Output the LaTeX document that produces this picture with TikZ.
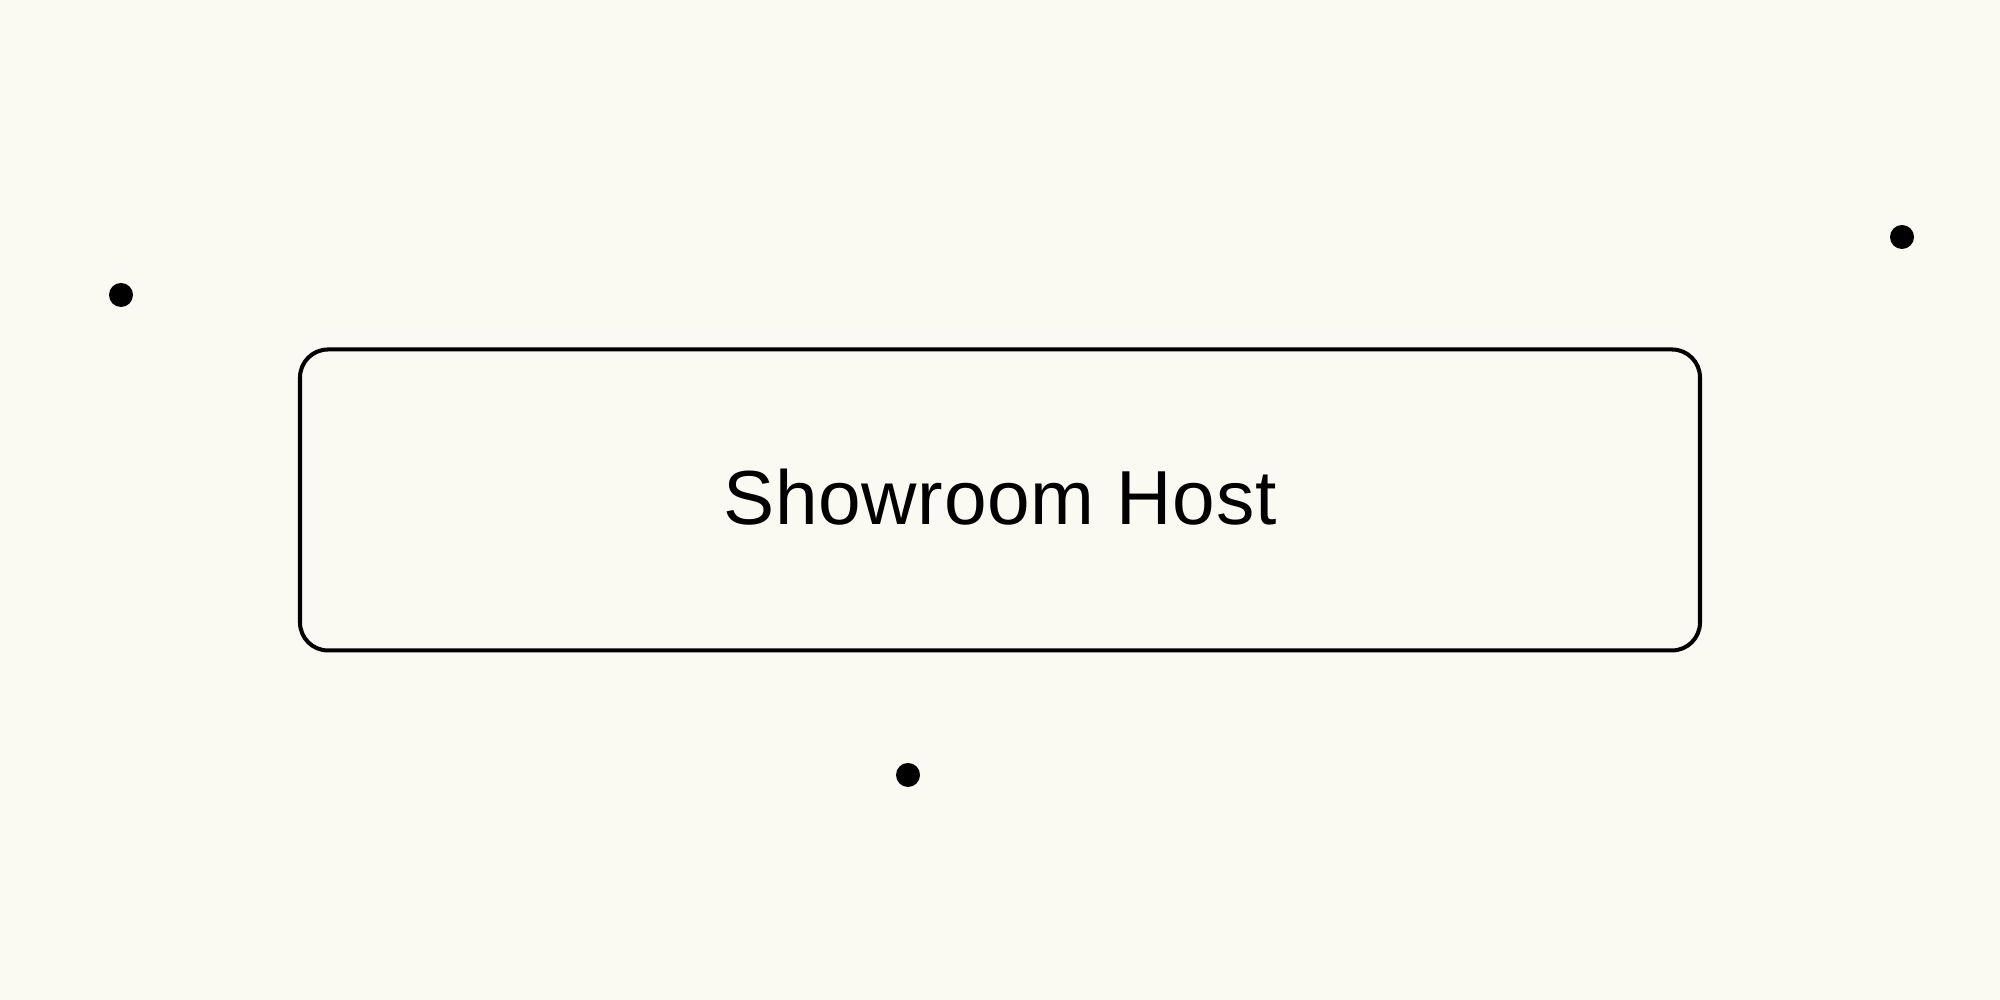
\documentclass[tikz,border=0pt]{standalone}
\usepackage{fontspec}
\setmainfont{Liberation Sans}[LetterSpace=1]
\usetikzlibrary{positioning}
\definecolor{paper}{RGB}{250,250,243}
\definecolor{ink}{RGB}{0,0,0}

\begin{document}
\begin{tikzpicture}[
            hostbox/.style={rectangle, draw=ink, line width=1.15pt, rounded corners=0.28cm, minimum width=14cm, minimum height=3.01cm, inner sep=0pt},
            label/.style={font=\fontsize{21.8}{26}\selectfont, text=ink, inner sep=0pt, anchor=base},
            spot/.style={circle, fill=ink, minimum size=0.24cm, inner sep=0pt}
        ]
        \fill[paper] (0,0) rectangle (20,10);
        \useasboundingbox (0,0) rectangle (20,10);

        \node[hostbox] (host) at (10,5) {};
        \node[label] (hostlabel) at (10,4.75) {Showroom Host};

        \node[spot] (dotleft) at (1.21,7.05) {};
        \node[spot] (dotright) at (19.02,7.63) {};
        \node[spot] (dotbottom) at (9.08,2.25) {};
        \end{tikzpicture}
\end{document}
